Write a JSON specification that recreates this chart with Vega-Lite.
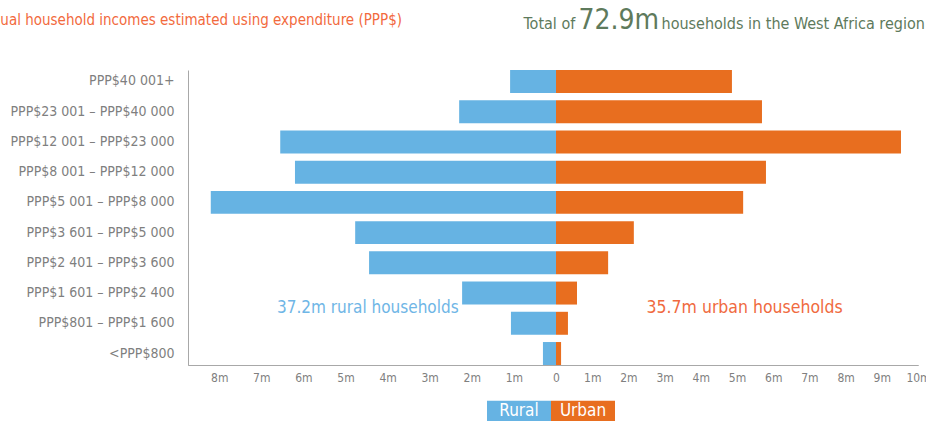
{
  "$schema": "https://vega.github.io/schema/vega-lite/v6.json",
  "width": 730,
  "height": 295,
  "autosize": {"type": "none"},
  "padding": {"left": 188, "top": 70, "right": 8, "bottom": 56},
  "background": "white",
  "config": {
    "view": {"stroke": null},
    "font": "Liberation Sans Narrow, Arial Narrow, DejaVu Sans Condensed, sans-serif"
  },
  "title": {
    "text": "Annual household incomes estimated using expenditure (PPP$)",
    "anchor": "start",
    "frame": "group",
    "dx": -214,
    "dy": 34,
    "offset": 0,
    "baseline": "alphabetic",
    "fontSize": 15,
    "fontWeight": "normal",
    "font": "Liberation Sans Narrow, Arial Narrow, DejaVu Sans Condensed, sans-serif",
    "color": "#f26a3d"
  },
  "data": {
    "values": [
      {"income": "PPP$40 001+", "area": "Rural", "households": 1.09},
      {"income": "PPP$23 001 – PPP$40 000", "area": "Rural", "households": 2.30},
      {"income": "PPP$12 001 – PPP$23 000", "area": "Rural", "households": 6.55},
      {"income": "PPP$8 001 – PPP$12 000", "area": "Rural", "households": 6.20},
      {"income": "PPP$5 001 – PPP$8 000", "area": "Rural", "households": 8.20},
      {"income": "PPP$3 601 – PPP$5 000", "area": "Rural", "households": 4.77},
      {"income": "PPP$2 401 – PPP$3 600", "area": "Rural", "households": 4.44},
      {"income": "PPP$1 601 – PPP$2 400", "area": "Rural", "households": 2.23},
      {"income": "PPP$801 – PPP$1 600", "area": "Rural", "households": 1.07},
      {"income": "<PPP$800", "area": "Rural", "households": 0.31},
      {"income": "PPP$40 001+", "area": "Urban", "households": 4.86},
      {"income": "PPP$23 001 – PPP$40 000", "area": "Urban", "households": 5.69},
      {"income": "PPP$12 001 – PPP$23 000", "area": "Urban", "households": 9.53},
      {"income": "PPP$8 001 – PPP$12 000", "area": "Urban", "households": 5.80},
      {"income": "PPP$5 001 – PPP$8 000", "area": "Urban", "households": 5.17},
      {"income": "PPP$3 601 – PPP$5 000", "area": "Urban", "households": 2.15},
      {"income": "PPP$2 401 – PPP$3 600", "area": "Urban", "households": 1.44},
      {"income": "PPP$1 601 – PPP$2 400", "area": "Urban", "households": 0.58},
      {"income": "PPP$801 – PPP$1 600", "area": "Urban", "households": 0.33},
      {"income": "<PPP$800", "area": "Urban", "households": 0.14}
    ]
  },
  "layer": [
    {
      "layer": [
        {
          "transform": [{"filter": "datum.area == 'Rural'"}],
          "mark": {"type": "bar"},
          "encoding": {
            "x": {
              "field": "households",
              "type": "quantitative",
              "scale": {"domain": [-8.599, 8.741], "reverse": true, "nice": false, "zero": false},
              "axis": {
                "orient": "bottom",
                "values": [0, 1, 2, 3, 4, 5, 6, 7, 8],
                "labelExpr": "datum.value == 0 ? '0' : datum.value + 'm'",
                "labelFlush": false,
                "grid": false,
                "ticks": false,
                "domainColor": "#a8a8a8",
                "labelColor": "#808080",
                "labelFontSize": 12,
                "labelPadding": 7,
                "title": "72.9m",
                "titleX": 390,
                "titleY": -337,
                "titleAlign": "left",
                "titleBaseline": "alphabetic",
                "titleAngle": 0,
                "titleFontSize": 28,
                "titleFontWeight": "normal",
                "titleColor": "#5e7a5c"
              }
            },
            "y": {
              "field": "income",
              "type": "nominal",
              "sort": ["PPP$40 001+", "PPP$23 001 – PPP$40 000", "PPP$12 001 – PPP$23 000", "PPP$8 001 – PPP$12 000", "PPP$5 001 – PPP$8 000", "PPP$3 601 – PPP$5 000", "PPP$2 401 – PPP$3 600", "PPP$1 601 – PPP$2 400", "PPP$801 – PPP$1 600", "<PPP$800"],
              "scale": {"paddingInner": 0.24, "paddingOuter": 0},
              "axis": {
                "ticks": false,
                "domainColor": "#a8a8a8",
                "labelColor": "#7f7f7f",
                "labelFontSize": 14,
                "labelPadding": 14,
                "labelLimit": 300,
                "title": "Total of",
                "titleX": 335,
                "titleY": -42,
                "titleAlign": "left",
                "titleBaseline": "alphabetic",
                "titleAngle": 0,
                "titleFontSize": 16,
                "titleFontWeight": "normal",
                "titleColor": "#5e7a5c"
              }
            },
            "color": {
              "field": "area",
              "type": "nominal",
              "scale": {"domain": ["Rural", "Urban"], "range": ["#66b3e3", "#e86e1f"]},
              "legend": {
                "orient": "none",
                "legendX": 299,
                "legendY": 309,
                "direction": "horizontal",
                "title": null,
                "symbolType": "M-1,-0.33H1V0.33H-1Z",
                "symbolSize": 4096,
                "symbolStrokeWidth": 0,
                "symbolOpacity": 1,
                "labelOffset": -32,
                "labelAlign": "center",
                "labelColor": "white",
                "labelFontSize": 17,
                "columnPadding": 0,
                "padding": 0
              }
            }
          }
        },
        {
          "data": {"values": [{"label": "37.2m rural households"}]},
          "mark": {"type": "text", "fontSize": 17, "color": "#6fb6e6", "align": "center", "baseline": "middle"},
          "encoding": {
            "x": {"datum": 4.47, "type": "quantitative"},
            "y": {"datum": "PPP$1 601 – PPP$2 400", "type": "nominal", "bandPosition": 1.17},
            "text": {"field": "label"}
          }
        }
      ]
    },
    {
      "layer": [
        {
          "transform": [{"filter": "datum.area == 'Urban'"}],
          "mark": {"type": "bar"},
          "encoding": {
            "x": {
              "field": "households",
              "type": "quantitative",
              "scale": {"domain": [-10.166, 10.0], "nice": false, "zero": false},
              "axis": {
                "orient": "bottom",
                "values": [1, 2, 3, 4, 5, 6, 7, 8, 9, 10],
                "labelExpr": "datum.value + 'm'",
                "labelFlush": false,
                "grid": false,
                "ticks": false,
                "domainColor": "#a8a8a8",
                "labelColor": "#808080",
                "labelFontSize": 12,
                "labelPadding": 7,
                "title": "households in the West Africa region",
                "titleX": 473,
                "titleY": -337,
                "titleAlign": "left",
                "titleBaseline": "alphabetic",
                "titleAngle": 0,
                "titleFontSize": 16,
                "titleFontWeight": "normal",
                "titleColor": "#5e7a5c"
              }
            },
            "y": {
              "field": "income",
              "type": "nominal",
              "sort": ["PPP$40 001+", "PPP$23 001 – PPP$40 000", "PPP$12 001 – PPP$23 000", "PPP$8 001 – PPP$12 000", "PPP$5 001 – PPP$8 000", "PPP$3 601 – PPP$5 000", "PPP$2 401 – PPP$3 600", "PPP$1 601 – PPP$2 400", "PPP$801 – PPP$1 600", "<PPP$800"]
            },
            "color": {"field": "area", "type": "nominal"}
          }
        },
        {
          "data": {"values": [{"label": "35.7m urban households"}]},
          "mark": {"type": "text", "fontSize": 17.5, "color": "#f06a40", "align": "center", "baseline": "middle"},
          "encoding": {
            "x": {"datum": 5.21, "type": "quantitative"},
            "y": {"datum": "PPP$1 601 – PPP$2 400", "type": "nominal", "bandPosition": 1.17},
            "text": {"field": "label"}
          }
        }
      ]
    }
  ],
  "resolve": {"scale": {"x": "independent"}, "axis": {"x": "independent"}}
}
